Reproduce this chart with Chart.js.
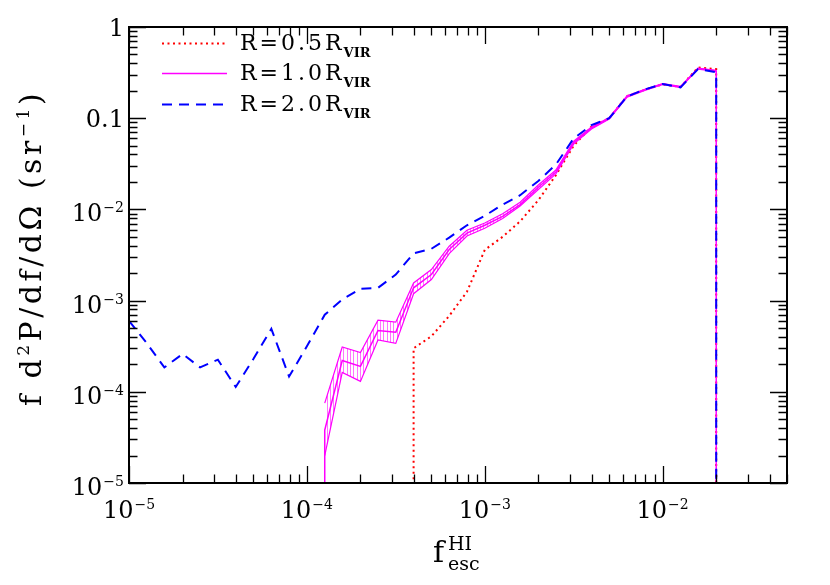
<!DOCTYPE html>
<html>
<head>
<meta charset="utf-8">
<title>HI escape fraction distribution</title>
<script src="https://cdn.jsdelivr.net/npm/chart.js@4.4.0/dist/chart.umd.min.js"></script>
<style>
  html, body { margin: 0; padding: 0; background: #fff; }
  #wrap { width: 830px; height: 585px; }
</style>
</head>
<body>
<div id="wrap"><canvas id="fescChart" width="830" height="585"></canvas></div>
<script>
// escape fraction bins, 0.1 dex wide
const fBins = [
  1.00e-5, 1.26e-5, 1.58e-5, 2.00e-5, 2.51e-5, 3.16e-5, 3.98e-5, 5.01e-5, 6.31e-5, 7.94e-5,
  1.00e-4, 1.26e-4, 1.58e-4, 2.00e-4, 2.51e-4, 3.16e-4, 3.98e-4, 5.01e-4, 6.31e-4, 7.94e-4,
  1.00e-3, 1.26e-3, 1.58e-3, 2.00e-3, 2.51e-3, 3.16e-3, 3.98e-3, 5.01e-3, 6.31e-3, 7.94e-3,
  1.00e-2, 1.26e-2, 1.58e-2, 2.00e-2
];

// R = 2.0 R_vir
const r20 = [
  6.0e-4, 3.4e-4, 1.85e-4, 2.6e-4, 1.85e-4, 2.25e-4, 1.13e-4, 2.3e-4, 4.9e-4, 1.47e-4,
  3.15e-4, 7.0e-4, 1.03e-3, 1.35e-3, 1.38e-3, 1.93e-3, 3.3e-3, 3.7e-3, 4.9e-3, 6.7e-3,
  8.5e-3, 1.13e-2, 1.43e-2, 2.05e-2, 3.1e-2, 6.0e-2, 8.4e-2, 0.100, 0.173, 0.207,
  0.237, 0.218, 0.345, 0.320
];

// R = 1.0 R_vir, with its upper / lower envelope
const r10 = [
  null, null, null, null, null, null, null, null, null, null,
  null, 3.8e-5, 2.2e-4, 1.9e-4, 4.7e-4, 4.5e-4, 1.38e-3, 1.93e-3, 3.63e-3, 5.5e-3,
  6.7e-3, 8.4e-3, 1.13e-2, 1.75e-2, 2.57e-2, 5.4e-2, 7.8e-2, 0.100, 0.173, 0.205,
  0.237, 0.220, 0.350, 0.330
];
const r10Hi = [
  null, null, null, null, null, null, null, null, null, null,
  null, 7.5e-5, 3.1e-4, 2.7e-4, 6.1e-4, 5.8e-4, 1.56e-3, 2.19e-3, 3.95e-3, 5.9e-3,
  7.1e-3, 8.97e-3, 1.2e-2, 1.85e-2, 2.7e-2, 5.6e-2, 8.0e-2, 0.102, 0.176, 0.208,
  0.240, 0.223, 0.355, 0.335
];
const r10Lo = [
  null, null, null, null, null, null, null, null, null, null,
  null, 2.0e-5, 1.63e-4, 1.3e-4, 3.7e-4, 3.4e-4, 1.19e-3, 1.7e-3, 3.28e-3, 5.1e-3,
  6.2e-3, 7.95e-3, 1.09e-2, 1.65e-2, 2.45e-2, 5.2e-2, 7.6e-2, 0.098, 0.170, 0.202,
  0.234, 0.217, 0.345, 0.325
];

// R = 0.5 R_vir
const r05 = [
  null, null, null, null, null, null, null, null, null, null,
  null, null, null, null, null, null, 3.0e-4, 4.06e-4, 6.8e-4, 1.25e-3,
  3.6e-3, 5.0e-3, 7.4e-3, 1.26e-2, 2.37e-2, 5.0e-2, 8.1e-2, 0.100, 0.175, 0.205,
  0.235, 0.220, 0.360, 0.345
];

const seriesNames = ['R=0.5R_VIR', 'R=1.0R_VIR', 'R=2.0R_VIR'];

const xTickValues = [1e-5, 1e-4, 1e-3, 1e-2];
const xTickLabels = ['10^\u22125', '10^\u22124', '10^\u22123', '10^\u22122'];
const yTickValues = [1e-5, 1e-4, 1e-3, 1e-2, 0.1, 1];
const yTickLabels = ['10^\u22125', '10^\u22124', '10^\u22123', '10^\u22122', '0.1', '1'];

// empty bins (zero) drop below the axis
const EMPTY_BIN = 1e-9;

const FONT = '"DejaVu Serif", "Liberation Serif", serif';
const redColor = '#ff0000';
const magentaColor = '#ff00ff';
const blueColor = '#0000ff';

function seriesPoints(values, dropStart, dropEnd) {
  const pts = [];
  fBins.forEach((f, i) => {
    if (values[i] !== null) pts.push({ x: f, y: values[i] });
  });
  if (dropStart) pts.unshift({ x: pts[0].x, y: EMPTY_BIN });
  if (dropEnd) pts.push({ x: pts[pts.length - 1].x, y: EMPTY_BIN });
  return pts;
}

// vertical hatching between the R=1.0 envelopes
const hatch = (() => {
  const c = document.createElement('canvas');
  c.width = 10;
  c.height = 4;
  const g = c.getContext('2d');
  g.fillStyle = 'rgba(255, 0, 255, 0.55)';
  [0, 3, 7].forEach(x => g.fillRect(x, 0, 1, 4));
  return g.createPattern(c, 'repeat');
})();

function tickList(min, max) {
  const out = [];
  for (let e = Math.floor(Math.log10(min)); e <= Math.ceil(Math.log10(max)); e++) {
    for (let k = 1; k <= 9; k++) {
      const v = k * Math.pow(10, e);
      if (v >= min * 0.999 && v <= max * 1.001) out.push([v, k === 1]);
    }
  }
  return out;
}

function splitLabel(s) {
  const i = s.indexOf('^');
  return i < 0 ? [s, ''] : [s.slice(0, i), s.slice(i + 1)];
}

const decor = {
  id: 'decor',
  afterDraw(chart) {
    const { ctx, chartArea: a, scales } = chart;
    const x = scales.x, y = scales.y;
    ctx.save();
    ctx.strokeStyle = '#000';
    ctx.fillStyle = '#000';

    // inward ticks on all four sides
    ctx.lineWidth = 1.3;
    ctx.beginPath();
    tickList(x.min, x.max).forEach(([v, major]) => {
      const px = Math.round(x.getPixelForValue(v)) + 0.5;
      const len = major ? 17 : 8.5;
      ctx.moveTo(px, a.bottom); ctx.lineTo(px, a.bottom - len);
      ctx.moveTo(px, a.top); ctx.lineTo(px, a.top + len);
    });
    tickList(y.min, y.max).forEach(([v, major]) => {
      const py = Math.round(y.getPixelForValue(v)) + 0.5;
      const len = major ? 17 : 8.5;
      ctx.moveTo(a.left, py); ctx.lineTo(a.left + len, py);
      ctx.moveTo(a.right, py); ctx.lineTo(a.right - len, py);
    });
    ctx.stroke();

    ctx.lineWidth = 2;
    ctx.strokeRect(a.left, a.top, a.right - a.left, a.bottom - a.top);

    // tick labels with raised exponents
    ctx.textAlign = 'left';
    ctx.textBaseline = 'alphabetic';
    const baseFont = '24px ' + FONT, expFont = '14px ' + FONT;
    const measure = (base, exp) => {
      ctx.font = baseFont;
      const wb = ctx.measureText(base).width;
      ctx.font = expFont;
      const we = exp ? ctx.measureText(exp).width + 1 : 0;
      return [wb, we];
    };
    xTickValues.forEach((v, i) => {
      const [base, exp] = splitLabel(xTickLabels[i]);
      const [wb, we] = measure(base, exp);
      const left = x.getPixelForValue(v) - (wb + we) / 2;
      ctx.font = baseFont;
      ctx.fillText(base, left, 518);
      ctx.font = expFont;
      ctx.fillText(exp, left + wb + 1, 509);
    });
    yTickValues.forEach((v, i) => {
      const [base, exp] = splitLabel(yTickLabels[i]);
      const [wb, we] = measure(base, exp);
      const py = y.getPixelForValue(v);
      const left = 124 - wb - we;
      ctx.font = baseFont;
      if (exp) {
        ctx.fillText(base, left, py + 12);
        ctx.font = expFont;
        ctx.fillText(exp, left + wb + 1, py + 3);
      } else {
        ctx.fillText(base, left, py + 8.5);
      }
    });

    // x title: f_esc^HI
    ctx.font = '30px ' + FONT;
    ctx.fillText('f', 433, 562);
    ctx.font = '19px ' + FONT;
    ctx.fillText('HI', 448, 550);
    ctx.fillText('esc', 448, 570);

    // y title, rotated
    ctx.save();
    ctx.translate(41, 248);
    ctx.rotate(-Math.PI / 2);
    const parts = [['f d', 0], ['2', 1], ['P/df/d\u03a9 (sr', 0], ['\u22121', 1], [')', 0]];
    ctx.letterSpacing = '3.5px';
    let total = 0;
    parts.forEach(([t, sup]) => {
      ctx.font = (sup ? '17px ' : '30px ') + FONT;
      total += ctx.measureText(t).width;
    });
    let cx = -total / 2;
    parts.forEach(([t, sup]) => {
      ctx.font = (sup ? '17px ' : '30px ') + FONT;
      ctx.fillText(t, cx, sup ? -12 : 0);
      cx += ctx.measureText(t).width;
    });
    ctx.restore();

    // legend
    const rows = [43, 73, 104];
    const styles = [
      { color: redColor, width: 2, dash: [2, 3.5] },
      { color: magentaColor, width: 1.5, dash: [] },
      { color: blueColor, width: 2, dash: [10, 7] }
    ];
    seriesNames.forEach((name, i) => {
      const s = styles[i], ry = rows[i];
      ctx.save();
      ctx.strokeStyle = s.color;
      ctx.lineWidth = s.width;
      ctx.setLineDash(s.dash);
      ctx.beginPath();
      ctx.moveTo(162, ry + 0.5);
      ctx.lineTo(227, ry + 0.5);
      ctx.stroke();
      ctx.restore();
      const [main, sub] = name.split('_');
      ctx.letterSpacing = '3px';
      ctx.font = '22px ' + FONT;
      ctx.fillText(main, 240, ry + 7);
      const w = ctx.measureText(main).width;
      ctx.letterSpacing = '0px';
      ctx.font = 'bold 13px ' + FONT;
      ctx.fillText(sub, 240 + w - 1, ry + 14);
    });

    ctx.restore();
  }
};

new Chart(document.getElementById('fescChart'), {
  type: 'line',
  data: {
    datasets: [
      {
        label: seriesNames[2],
        data: seriesPoints(r20, false, true),
        borderColor: blueColor,
        borderWidth: 2,
        borderDash: [10, 7],
        order: 0
      },
      {
        label: seriesNames[1],
        data: seriesPoints(r10, true, true),
        borderColor: magentaColor,
        borderWidth: 1.5,
        order: 1
      },
      {
        label: 'R=1.0 upper',
        data: seriesPoints(r10Hi, false, false),
        borderColor: magentaColor,
        borderWidth: 1.2,
        fill: '+1',
        backgroundColor: hatch,
        order: 2
      },
      {
        label: 'R=1.0 lower',
        data: seriesPoints(r10Lo, false, false),
        borderColor: magentaColor,
        borderWidth: 1.2,
        order: 3
      },
      {
        label: seriesNames[0],
        data: seriesPoints(r05, true, true),
        borderColor: redColor,
        borderWidth: 2,
        borderDash: [2, 3.5],
        order: 4
      }
    ]
  },
  options: {
    responsive: false,
    animation: false,
    devicePixelRatio: 1,
    layout: {
      padding: { left: 129, right: 43, top: 27, bottom: 102 }
    },
    elements: {
      point: { radius: 0 },
      line: { tension: 0, borderCapStyle: 'butt', fill: false }
    },
    datasets: {
      line: { clip: 0 }
    },
    plugins: {
      legend: { display: false },
      tooltip: { enabled: false }
    },
    scales: {
      x: { type: 'logarithmic', min: 1e-5, max: 0.05, display: false },
      y: { type: 'logarithmic', min: 1e-5, max: 1, display: false }
    }
  },
  plugins: [decor]
});
</script>
</body>
</html>
